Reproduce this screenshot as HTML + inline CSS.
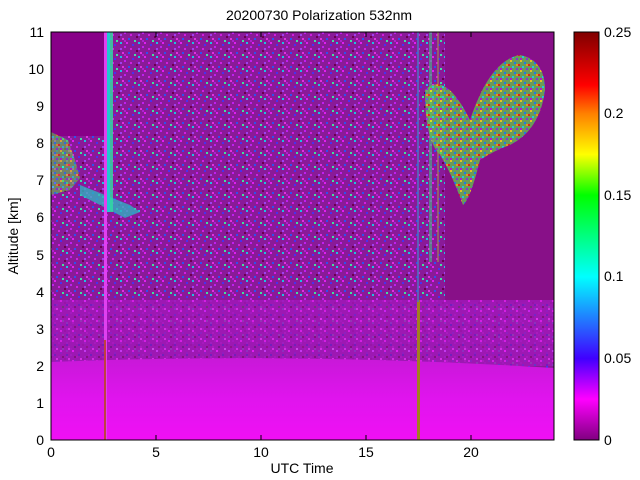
<!DOCTYPE html>
<html><head><meta charset="utf-8"><style>
html,body{margin:0;padding:0;background:#fff;width:640px;height:480px;overflow:hidden}
svg text{font-family:"Liberation Sans",sans-serif;fill:#000}
</style></head><body>
<svg width="640" height="480" viewBox="0 0 640 480" xmlns="http://www.w3.org/2000/svg">
<defs>
<pattern id="sp" x="0" y="0" width="18" height="14" patternUnits="userSpaceOnUse">
<rect width="18" height="14" fill="#8a1a98"/>
<rect x="0" y="0" width="2" height="2" fill="#e020f0"/>
<rect x="6" y="2" width="2" height="2" fill="#4a30f0"/>
<rect x="12" y="0" width="2" height="2" fill="#20c0e0"/>
<rect x="4" y="6" width="2" height="2" fill="#d020e0"/>
<rect x="10" y="8" width="2" height="2" fill="#6a0050"/>
<rect x="16" y="4" width="2" height="2" fill="#c020f0"/>
<rect x="2" y="10" width="2" height="2" fill="#3050f0"/>
<rect x="14" y="10" width="2" height="2" fill="#e030e0"/>
<rect x="8" y="12" width="2" height="2" fill="#40e0a0"/>
<rect x="16" y="12" width="2" height="2" fill="#b020d0"/>
<rect x="12" y="6" width="2" height="2" fill="#a040f0"/>
</pattern>
<pattern id="sp2" x="0" y="0" width="12" height="10" patternUnits="userSpaceOnUse">
<rect width="12" height="10" fill="#a018b8"/>
<rect x="0" y="0" width="2" height="2" fill="#e020f0"/>
<rect x="6" y="4" width="2" height="2" fill="#7020c0"/>
<rect x="8" y="8" width="2" height="2" fill="#e030f0"/>
<rect x="2" y="6" width="2" height="2" fill="#80107a"/>
</pattern>
<pattern id="cp" x="0" y="0" width="10" height="10" patternUnits="userSpaceOnUse">
<rect width="10" height="10" fill="#60c848"/>
<rect x="0" y="0" width="2" height="2" fill="#ffff00"/>
<rect x="4" y="2" width="2" height="2" fill="#00a0ff"/>
<rect x="8" y="4" width="2" height="2" fill="#ff2000"/>
<rect x="2" y="6" width="2" height="2" fill="#00ffff"/>
<rect x="6" y="8" width="2" height="2" fill="#8040f0"/>
<rect x="6" y="4" width="2" height="2" fill="#ffc000"/>
<rect x="0" y="8" width="2" height="2" fill="#c020e0"/>
</pattern>
<linearGradient id="cb" x1="0" y1="1" x2="0" y2="0">
<stop offset="0" stop-color="#800080"/>
<stop offset="0.1" stop-color="#ff00ff"/>
<stop offset="0.2" stop-color="#4000ff"/>
<stop offset="0.4" stop-color="#00ffff"/>
<stop offset="0.6" stop-color="#00ff00"/>
<stop offset="0.7" stop-color="#ffff00"/>
<stop offset="0.8" stop-color="#ff8000"/>
<stop offset="0.87" stop-color="#ff0000"/>
<stop offset="1" stop-color="#800000"/>
</linearGradient>
<linearGradient id="low" x1="0" y1="0" x2="0" y2="1">
<stop offset="0" stop-color="#c818d8"/>
<stop offset="0.5" stop-color="#e014ee"/>
<stop offset="1" stop-color="#f010f4"/>
</linearGradient>
</defs>
<!-- plot -->
<rect x="51" y="32" width="503" height="408" fill="url(#sp)"/>
<rect x="51" y="32" width="54" height="104" fill="#880088"/>
<rect x="445" y="32" width="109" height="270" fill="#881088"/>
<rect x="51" y="300" width="503" height="66" fill="url(#sp2)" opacity="0.85"/>
<path d="M51 362 Q300 352 554 368 L554 440 L51 440Z" fill="url(#low)"/>
<!-- left cloud -->
<path d="M51 132 L68 140 L75 160 L80 178 L70 190 L51 195Z" fill="url(#cp)" opacity="0.6"/>
<path d="M80 185 L105 195 L130 205 L140 212 L125 218 L100 205 L80 195Z" fill="#30b0c0" opacity="0.8"/>
<!-- vertical stripes -->
<rect x="104" y="32" width="3" height="408" fill="#e040f0"/>
<rect x="107" y="32" width="3" height="180" fill="#20c8d0"/>
<rect x="110" y="32" width="3" height="180" fill="#30e0a0" opacity="0.8"/>
<rect x="104" y="340" width="2" height="100" fill="#c04040"/>
<rect x="417" y="300" width="3" height="140" fill="#a08020"/>
<rect x="417" y="32" width="2" height="270" fill="#5070c0" opacity="0.8"/>
<rect x="429" y="32" width="3" height="230" fill="#40c080" opacity="0.6"/>
<rect x="437" y="32" width="2" height="230" fill="#a0a040" opacity="0.5"/>
<!-- right cloud -->
<path d="M425 90 Q445 70 470 120 Q490 60 520 55 Q545 60 545 90 Q540 130 510 145 Q495 150 480 160 Q470 200 463 205 Q450 170 440 155 Q425 140 425 90Z" fill="url(#cp)" opacity="0.75"/>
<rect x="51" y="32" width="503" height="408" fill="none" stroke="#000" stroke-width="1"/>
<!-- ticks -->
<g stroke="#000" stroke-width="1">
<line x1="156" y1="440" x2="156" y2="435"/><line x1="261" y1="440" x2="261" y2="435"/><line x1="366" y1="440" x2="366" y2="435"/><line x1="471" y1="440" x2="471" y2="435"/>
<line x1="156" y1="32" x2="156" y2="37"/><line x1="261" y1="32" x2="261" y2="37"/><line x1="366" y1="32" x2="366" y2="37"/><line x1="471" y1="32" x2="471" y2="37"/>
</g>
<g font-size="14" text-anchor="middle">
<text x="51" y="457">0</text><text x="156" y="457">5</text><text x="261" y="457">10</text><text x="366" y="457">15</text><text x="471" y="457">20</text>
<text x="302" y="473">UTC Time</text>
<text x="319" y="20">20200730 Polarization 532nm</text>
</g>
<g font-size="14" text-anchor="end">
<text x="44" y="445">0</text><text x="44" y="408">1</text><text x="44" y="371">2</text><text x="44" y="334">3</text>
<text x="44" y="297">4</text><text x="44" y="260">5</text><text x="44" y="222">6</text><text x="44" y="185">7</text>
<text x="44" y="148">8</text><text x="44" y="111">9</text><text x="44" y="74">10</text><text x="44" y="37">11</text>
</g>
<text transform="translate(18,236) rotate(-90)" font-size="14" text-anchor="middle">Altitude [km]</text>
<!-- colorbar -->
<rect x="574" y="32" width="25" height="408" fill="url(#cb)" stroke="#000"/>
<g font-size="14">
<text x="604" y="445">0</text><text x="604" y="363">0.05</text><text x="604" y="281">0.1</text>
<text x="604" y="200">0.15</text><text x="604" y="118">0.2</text><text x="604" y="37">0.25</text>
</g>
</svg>
</body></html>
